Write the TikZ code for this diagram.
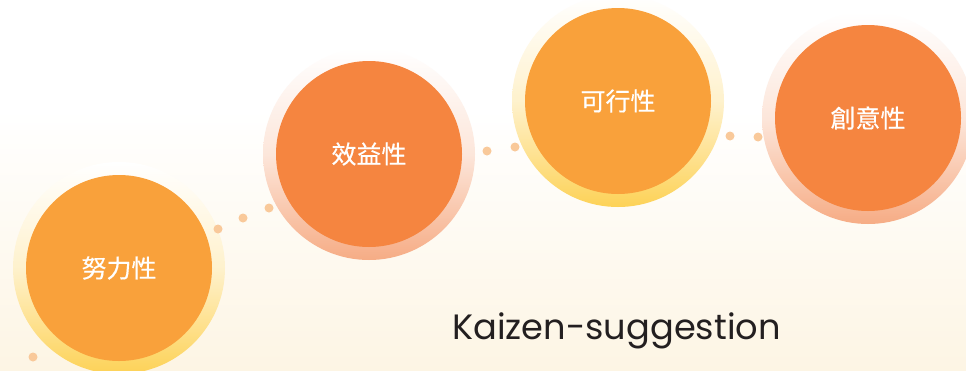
\documentclass[tikz,border=0pt]{standalone}
\usepackage{fontspec}
\setmainfont{Poppins}
\newfontfamily\cjk[FakeBold=0.4]{Noto Sans CJK TC}
\definecolor{cream}{HTML}{FDF5E4}
\definecolor{yfill}{HTML}{F9A13B}
\definecolor{ofill}{HTML}{F58540}
\definecolor{yring}{HTML}{FDD257}
\definecolor{oring}{HTML}{F6AC85}
\definecolor{dotc}{HTML}{F9C99A}
\definecolor{txt}{HTML}{231F20}
\tikzset{
  x=1pt, y=-1pt,
  label/.style={text=white, font=\cjk\fontsize{25}{25}\selectfont, inner sep=0pt},
  dotmark/.style={fill=dotc, draw=none},
}
\begin{document}
\begin{tikzpicture}
\useasboundingbox (0,0) rectangle (966,370);
\fill[white] (0,0) rectangle (966,370);
\shade[top color=white, bottom color=cream] (0,110) rectangle (966,370);
% circle 1
\shade[top color=white, bottom color=yring, middle color=yring!30] (119,268) circle (106);
\fill[yfill] (119,268) circle (93);
\node[label] (c1) at (119,268) {努力性};
% circle 2
\shade[top color=white, bottom color=oring, middle color=oring!30] (369,154) circle (106);
\fill[ofill] (369,154) circle (93);
\node[label] (c2) at (369,154) {效益性};
% circle 3
\shade[top color=white, bottom color=yring, middle color=yring!30] (618,101) circle (106);
\fill[yfill] (618,101) circle (93);
\node[label] (c3) at (618,101) {可行性};
% circle 4
\shade[top color=white, bottom color=oring, middle color=oring!30] (868,118) circle (106);
\fill[ofill] (868,118) circle (93);
\node[label] (c4) at (868,118) {創意性};
% dots
\fill[dotmark] (33,357) circle (4.5);
\fill[dotmark] (218,229) circle (4.5);
\fill[dotmark] (243,218) circle (4.5);
\fill[dotmark] (269,208) circle (4.5);
\fill[dotmark] (487,151) circle (4.5);
\fill[dotmark] (515,147) circle (4.5);
\fill[dotmark] (730,136) circle (4.5);
\fill[dotmark] (758,137) circle (4.5);
% title
\node[anchor=base west, inner sep=0pt, text=txt, font=\fontsize{35.2}{36}\selectfont] (title) at (452,339) {Kaizen-suggestion};
\end{tikzpicture}
\end{document}
